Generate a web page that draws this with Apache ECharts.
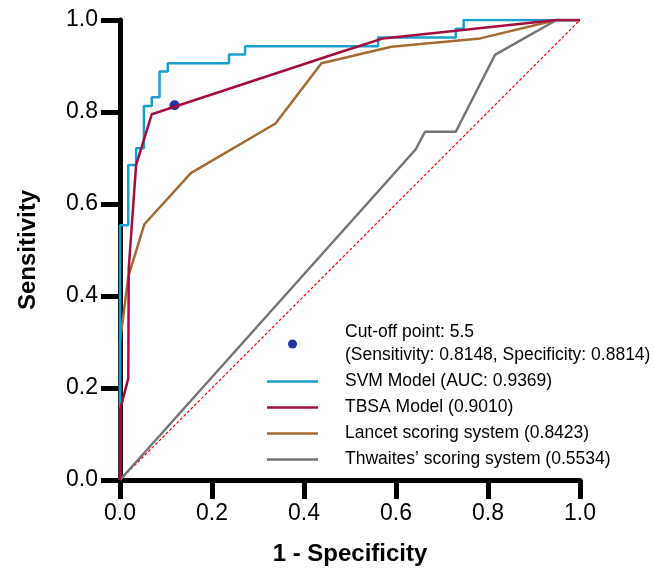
<!DOCTYPE html>
<html>
<head>
<meta charset="utf-8">
<script src="https://cdn.jsdelivr.net/npm/echarts@6/dist/echarts.min.js"></script>
<style>
  html, body { margin: 0; padding: 0; background: #fff; }
  #chart { width: 654px; height: 574px; }
</style>
</head>
<body>
<div id="chart"></div>
<script>
// ROC curves (1 - specificity, sensitivity)
var svmFpr = [0, 0, 0.018, 0.018, 0.035, 0.035, 0.052, 0.052, 0.069, 0.069, 0.086, 0.086, 0.104, 0.104, 0.237, 0.237, 0.272, 0.272, 0.561, 0.561, 0.730, 0.730, 0.747, 0.747, 1.0]
var svmTpr = [0, 0.554, 0.554, 0.685, 0.685, 0.721, 0.721, 0.813, 0.813, 0.832, 0.832, 0.888, 0.888, 0.906, 0.906, 0.925, 0.925, 0.943, 0.943, 0.962, 0.962, 0.981, 0.981, 1.0, 1.0]

var tbsaFpr = [0, 0, 0.018, 0.019, 0.035, 0.069, 0.46, 0.572, 0.949, 1.0]
var tbsaTpr = [0, 0.152, 0.221, 0.46, 0.685, 0.795, 0.924, 0.96, 1.0, 1.0]

var lancetFpr = [0, 0, 0.018, 0.053, 0.154, 0.338, 0.438, 0.59, 0.783, 0.949, 1.0]
var lancetTpr = [0, 0.30, 0.442, 0.556, 0.667, 0.775, 0.906, 0.942, 0.96, 1.0, 1.0]

var thwFpr = [0, 0.643, 0.663, 0.730, 0.815, 0.949, 1.0]
var thwTpr = [0, 0.719, 0.757, 0.757, 0.924, 1.0, 1.0]

var refFpr = [0, 1]
var refTpr = [0, 1]

var cutoffPoint = [0.1186, 0.8148]

var seriesNames = [
  'Cut-off point: 5.5\n(Sensitivity: 0.8148, Specificity: 0.8814)',
  'SVM Model (AUC: 0.9369)',
  'TBSA Model (0.9010)',
  'Lancet scoring system (0.8423)',
  'Thwaites\u2019 scoring system (0.5534)'
]
var tickLabels = ['0.0', '0.2', '0.4', '0.6', '0.8', '1.0']

function pairs(xs, ys) {
  return xs.map(function (x, i) { return [x, ys[i]] })
}

var font = "'Liberation Sans', Arial, sans-serif"
var lineIcon = 'path://M0,0h51v2.5h-51z'
var chart = echarts.init(document.getElementById('chart'))

function axisCommon() {
  return {
    type: 'value',
    min: 0,
    max: 1,
    interval: 0.2,
    nameLocation: 'middle',
    nameTextStyle: { fontFamily: font, fontWeight: 'bold', fontSize: 24, color: '#000' },
    axisLine: { show: true, onZero: false, lineStyle: { color: '#000', width: 5 } },
    axisTick: { show: true, length: 19, lineStyle: { color: '#000', width: 5 } },
    axisLabel: {
      margin: 22,
      fontFamily: font,
      fontSize: 23,
      color: '#000',
      formatter: function (v) { return tickLabels[Math.round(v / 0.2)] }
    },
    splitLine: { show: false }
  }
}

var xAxis = axisCommon()
xAxis.name = '1 - Specificity'
xAxis.nameGap = 62
var yAxis = axisCommon()
yAxis.name = 'Sensitivity'
yAxis.nameGap = 80

chart.setOption({
  animation: false,
  backgroundColor: '#fff',
  grid: { left: 120, top: 20, width: 460, height: 460 },
  xAxis: xAxis,
  yAxis: yAxis,
  legend: {
    orient: 'vertical',
    left: 267,
    top: 321,
    padding: 0,
    itemWidth: 51,
    itemHeight: 9,
    itemGap: 3,
    data: [
      { name: seriesNames[0], icon: 'circle' },
      { name: seriesNames[1], icon: lineIcon },
      { name: seriesNames[2], icon: lineIcon },
      { name: seriesNames[3], icon: lineIcon },
      { name: seriesNames[4], icon: lineIcon }
    ],
    textStyle: {
      fontFamily: font,
      fontSize: 17.5,
      lineHeight: 23,
      color: '#000',
      padding: [0, 0, 0, 22]
    }
  },
  series: [
    {
      name: 'reference',
      type: 'line',
      data: pairs(refFpr, refTpr),
      symbol: 'none',
      lineStyle: { color: '#ff0000', width: 1.2, type: [3, 2] },
      silent: true
    },
    {
      name: seriesNames[4],
      type: 'line',
      data: pairs(thwFpr, thwTpr),
      symbol: 'none',
      color: '#757575',
      lineStyle: { color: '#757575', width: 2.5 }
    },
    {
      name: seriesNames[3],
      type: 'line',
      data: pairs(lancetFpr, lancetTpr),
      symbol: 'none',
      color: '#a36a33',
      lineStyle: { color: '#a36a33', width: 2.5 }
    },
    {
      name: seriesNames[1],
      type: 'line',
      data: pairs(svmFpr, svmTpr),
      symbol: 'none',
      color: '#1b9ed0',
      lineStyle: { color: '#1b9ed0', width: 2.5 }
    },
    {
      name: seriesNames[2],
      type: 'line',
      data: pairs(tbsaFpr, tbsaTpr),
      symbol: 'none',
      color: '#a50d3e',
      lineStyle: { color: '#a50d3e', width: 2.5 }
    },
    {
      name: seriesNames[0],
      type: 'scatter',
      data: [cutoffPoint],
      symbol: 'circle',
      symbolSize: 10,
      color: '#2233a8',
      itemStyle: { color: '#2233a8', opacity: 1 }
    }
  ]
})
</script>
</body>
</html>
